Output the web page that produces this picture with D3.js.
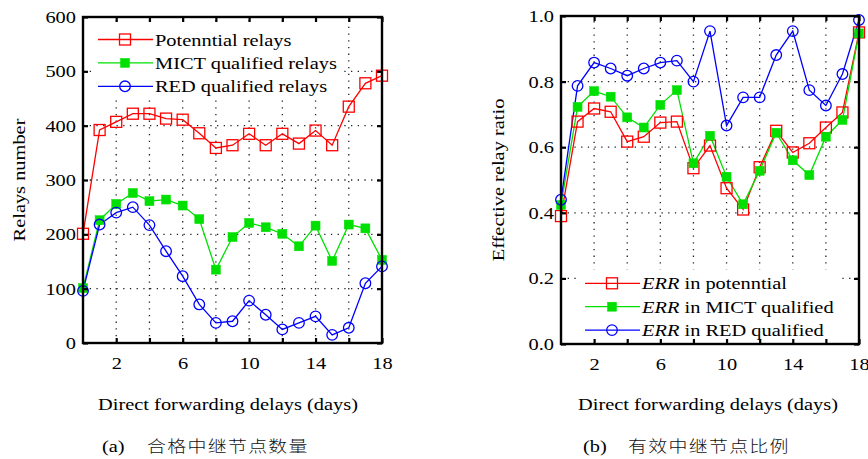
<!DOCTYPE html>
<html><head><meta charset="utf-8">
<script src="https://cdn.jsdelivr.net/npm/d3@7/dist/d3.min.js"></script>
<style>
body{margin:0;background:#fff;}
svg{display:block;}
</style></head>
<body>
<svg id="c" width="868" height="459"></svg>
<script>
const days = d3.range(0, 19);
const xTickLabels = [2, 6, 10, 14, 18];
const xGrid = [2, 4, 6, 8, 10, 12, 14, 16, 18];

const potentialRelays = [201, 392, 407, 422, 422, 413, 411, 386, 359, 364, 385, 364, 385, 367, 391, 364, 435, 478, 492];
const mictRelays = [101, 226, 256, 276, 261, 264, 253, 228, 135, 195, 221, 213, 201, 178, 216, 151, 218, 211, 153];
const redRelays = [96, 218, 240, 250, 217, 169, 123, 71, 37, 40, 78, 52, 25, 37, 49, 15, 28, 110, 141];
const leftYTicks = [0, 100, 200, 300, 400, 500, 600];

const errPotential = [0.39, 0.678, 0.718, 0.708, 0.617, 0.632, 0.675, 0.678, 0.536, 0.605, 0.475, 0.41, 0.539, 0.65, 0.584, 0.612, 0.66, 0.706, 0.95];
const errMict = [0.424, 0.723, 0.771, 0.754, 0.691, 0.66, 0.729, 0.774, 0.551, 0.635, 0.51, 0.426, 0.528, 0.644, 0.56, 0.515, 0.632, 0.683, 0.947];
const errRed = [0.44, 0.787, 0.858, 0.84, 0.818, 0.84, 0.858, 0.864, 0.80, 0.954, 0.666, 0.752, 0.752, 0.881, 0.954, 0.774, 0.727, 0.823, 0.988];
const rightYTicks = [0, 0.2, 0.4, 0.6, 0.8, 1.0];

const leftLegend = ["Potenntial relays", "MICT qualified relays", "RED qualified relays"];
const rightLegend = ["in potenntial", "in MICT qualified", "in RED qualified"];
const colors = ["#ff0000", "#00e000", "#0000ff"];

const svg = d3.select("#c");
const serif = "'Liberation Serif','Times New Roman',serif";
const SX = 1.2;   // horizontal stretch of text in the reference
const FS = 17;

function txt(g, x, y, str, extra) {
  const t = g.append("text")
    .attr("transform", `translate(${x},${y}) ${extra || ""} scale(${SX},1)`)
    .attr("font-family", serif).attr("font-size", FS).attr("fill", "#000");
  if (str !== null) t.text(str);
  return t;
}

function marker(g, type, x, y, c) {
  if (type === 0) {
    g.append("rect").attr("x", x - 5.5).attr("y", y - 5.5).attr("width", 11).attr("height", 11)
      .attr("fill", "none").attr("stroke", c).attr("stroke-width", 1.3);
  } else if (type === 1) {
    g.append("rect").attr("x", x - 4.5).attr("y", y - 4.5).attr("width", 9).attr("height", 9)
      .attr("fill", c).attr("stroke", c).attr("stroke-width", 0.5);
  } else {
    g.append("circle").attr("cx", x).attr("cy", y).attr("r", 5.3)
      .attr("fill", "none").attr("stroke", c).attr("stroke-width", 1.3);
  }
}

function panel(opt) {
  const x = d3.scaleLinear().domain([0, 18]).range([opt.x0, opt.x1]);
  const y = d3.scaleLinear().domain(opt.ydom).range([opt.yb, opt.yt]);
  const g = svg.append("g");
  // grid
  xGrid.forEach(v => {
    if (v >= 18) return;
    g.append("line").attr("x1", x(v)).attr("x2", x(v)).attr("y1", opt.yb).attr("y2", opt.yt)
      .attr("stroke", "#222").attr("stroke-width", 1.3).attr("stroke-dasharray", "1.3,5.4");
  });
  opt.yticks.forEach((v, i) => {
    if (i === 0 || i === opt.yticks.length - 1) return;
    g.append("line").attr("x1", opt.x0).attr("x2", opt.x1).attr("y1", y(v)).attr("y2", y(v))
      .attr("stroke", "#222").attr("stroke-width", 1.3).attr("stroke-dasharray", "1.3,5.4");
  });
  // legend background
  g.append("rect").attr("x", opt.lgx - 6).attr("y", opt.lgy - 14).attr("width", opt.lgw).attr("height", 72)
    .attr("fill", "#fff");
  // series
  const line = d3.line().x((d, i) => x(days[i])).y(d => y(d));
  opt.series.forEach((s, k) => {
    g.append("path").attr("d", line(s)).attr("fill", "none").attr("stroke", colors[k]).attr("stroke-width", 1.3);
  });
  opt.series.forEach((s, k) => {
    s.forEach((v, i) => marker(g, k, x(days[i]), y(v), colors[k]));
  });
  // frame
  g.append("rect").attr("x", opt.x0).attr("y", opt.yt).attr("width", opt.x1 - opt.x0).attr("height", opt.yb - opt.yt)
    .attr("fill", "none").attr("stroke", "#000").attr("stroke-width", 2.4);
  // axes with inward ticks
  const ax = g.append("g").attr("transform", `translate(0,${opt.yb})`)
    .call(d3.axisBottom(x).tickValues(xGrid).tickSize(-5).tickPadding(14)
      .tickFormat(d => xTickLabels.includes(d) ? d3.format("d")(d) : ""));
  const axTop = g.append("g").attr("transform", `translate(0,${opt.yt})`)
    .call(d3.axisTop(x).tickValues(xGrid).tickSize(-5).tickFormat(""));
  const ay = g.append("g").attr("transform", `translate(${opt.x0},0)`)
    .call(d3.axisLeft(y).tickValues(opt.yticks).tickSize(-5).tickPadding(7).tickFormat(opt.yfmt));
  const ayR = g.append("g").attr("transform", `translate(${opt.x1},0)`)
    .call(d3.axisRight(y).tickValues(opt.yticks).tickSize(-5).tickFormat(""));
  [ax, axTop, ay, ayR].forEach(a => {
    a.select(".domain").remove();
    a.selectAll(".tick line").attr("stroke", "#000").attr("stroke-width", 2.2);
    a.selectAll("text").attr("font-family", serif).attr("font-size", FS).attr("fill", "#000");
  });
  ay.selectAll("text").each(function () {
    const t = d3.select(this);
    const xv = +t.attr("x");
    t.attr("x", xv / SX).attr("transform", `scale(${SX},1)`);
  });
  ax.selectAll("text").attr("transform", `scale(${SX},1)`);
  // legend
  opt.legend.forEach((t, k) => {
    const ly = opt.lgy + k * 23.4;
    g.append("line").attr("x1", opt.lgx).attr("x2", opt.lgx + 55).attr("y1", ly).attr("y2", ly)
      .attr("stroke", colors[k]).attr("stroke-width", 1.3);
    marker(g, k, opt.lgx + 27, ly, colors[k]);
    const tx = txt(g, opt.lgx + 57, ly + 6, null);
    if (opt.italicPrefix) {
      tx.append("tspan").attr("font-style", "italic").text(opt.italicPrefix + " ");
    }
    tx.append("tspan").text(t);
  });
  // labels
  txt(g, opt.ylabX, (opt.yt + opt.yb) / 2, opt.ylabel, "rotate(-90)").attr("text-anchor", "middle");
  txt(g, opt.xlabC, 410, "Direct forwarding delays (days)").attr("text-anchor", "middle");
  txt(g, opt.capX, 452, opt.capA);
  g.append("text").attr("transform", `translate(${opt.capX + 45},452) scale(1.22,1)`)
    .attr("font-family", "'Noto Sans CJK SC',sans-serif").attr("font-size", 15.5).attr("font-weight", 300)
    .attr("letter-spacing", 1.1).attr("fill", "#111").text(opt.capB);
}

panel({
  x0: 83, x1: 382, yt: 17, yb: 343, ydom: [0, 600], yticks: leftYTicks, yfmt: d3.format("d"),
  series: [potentialRelays, mictRelays, redRelays], legend: leftLegend,
  lgx: 98, lgy: 39.5, lgw: 252, ylabX: 25, ylabel: "Relays number", xlabC: 228,
  capX: 102, capA: "(a)", capB: "合格中继节点数量"
});
panel({
  x0: 561, x1: 859, yt: 16, yb: 344, ydom: [0, 1], yticks: rightYTicks, yfmt: d3.format(".1f"),
  series: [errPotential, errMict, errRed], legend: rightLegend, italicPrefix: "ERR",
  lgx: 585, lgy: 283.3, lgw: 262, ylabX: 504, ylabel: "Effective relay ratio", xlabC: 708,
  capX: 583, capA: "(b)", capB: "有效中继节点比例"
});
</script>
</body></html>
